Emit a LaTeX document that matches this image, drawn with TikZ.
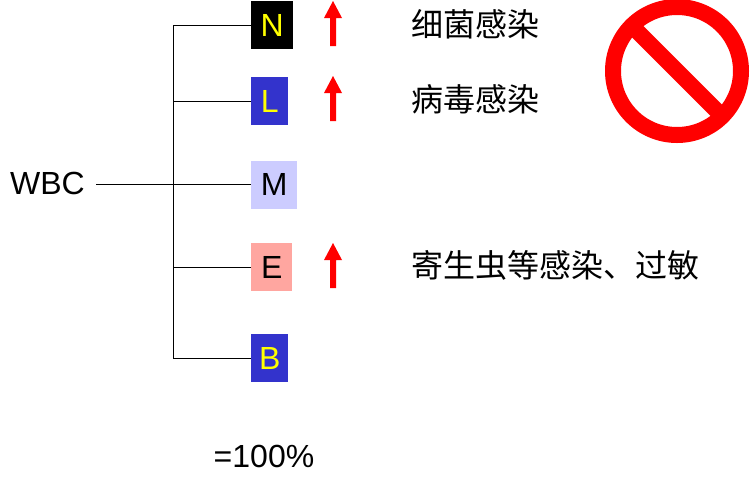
\documentclass[tikz,border=0pt]{standalone}
\usepackage{xcolor}
\usepackage{fontspec}
\setmainfont{Liberation Sans}
\newfontfamily\cjk{Noto Sans CJK SC}
\definecolor{mblue}{HTML}{3333CC}
\definecolor{mlilac}{HTML}{CCCCFF}
\definecolor{mpink}{HTML}{FFA6A0}
\definecolor{myellow}{HTML}{FFFF00}
\tikzset{
  cell/.style={inner sep=0pt, minimum height=48pt, anchor=west, font=\fontsize{32}{34}\selectfont},
  upmark/.style={fill=red, draw=none},
  lbl/.style={anchor=west, inner sep=0pt, font=\cjk\fontsize{32}{36}\selectfont},
  txt/.style={inner sep=0pt, font=\fontsize{32}{36}\selectfont},
  wire/.style={line width=1pt},
}
\begin{document}
\begin{tikzpicture}[x=1pt, y=-1pt]
        \useasboundingbox (0, 0) rectangle (750, 480);
        \node[txt] (wbc) at (47.5, 183) {WBC};
        \coordinate (wbcend) at (96, 184.5);
        \coordinate (trunk) at (173.5, 184.5);
        \node[cell, fill=black, text=myellow, minimum width=42pt] (n) at (251, 25) {N};
        \node[cell, fill=mblue, text=myellow, minimum width=37pt] (l) at (251, 101) {L};
        \node[cell, fill=mlilac, text=black, minimum width=46pt] (m) at (251, 184.5) {M};
        \node[cell, fill=mpink, text=black, minimum width=41pt] (e) at (251, 267) {E};
        \node[cell, fill=mblue, text=myellow, minimum width=37pt] (b) at (251, 358) {B};
        \draw[wire] (wbcend) -- (m.west);
        \draw[wire] (n.west) -| (trunk) |- (b.west);
        \draw[wire] (l.west) -- (l.west -| trunk);
        \draw[wire] (e.west) -- (e.west -| trunk);
        \foreach \px/\py in {333/1, 333/76, 333/243} {
          \fill[upmark] (\px-3, \py+45) -- (\px-3, \py+17) -- (\px-9, \py+17) -- (\px, \py) -- (\px+9, \py+17) -- (\px+3, \py+17) -- (\px+3, \py+45) -- cycle;
        }
        \node[lbl] (t1) at (411.5, 24) {细菌感染};
        \node[lbl] (t2) at (411.5, 99) {病毒感染};
        \node[lbl] (t3) at (411.5, 265) {寄生虫等感染、过敏};
        \node[txt] (sum) at (264, 456) {=100\%};
        \draw[red, line width=16pt] (677, 71) circle (64);
        \draw[red, line width=16pt] (633, 27) -- (721, 115);
    \end{tikzpicture}
\end{document}
